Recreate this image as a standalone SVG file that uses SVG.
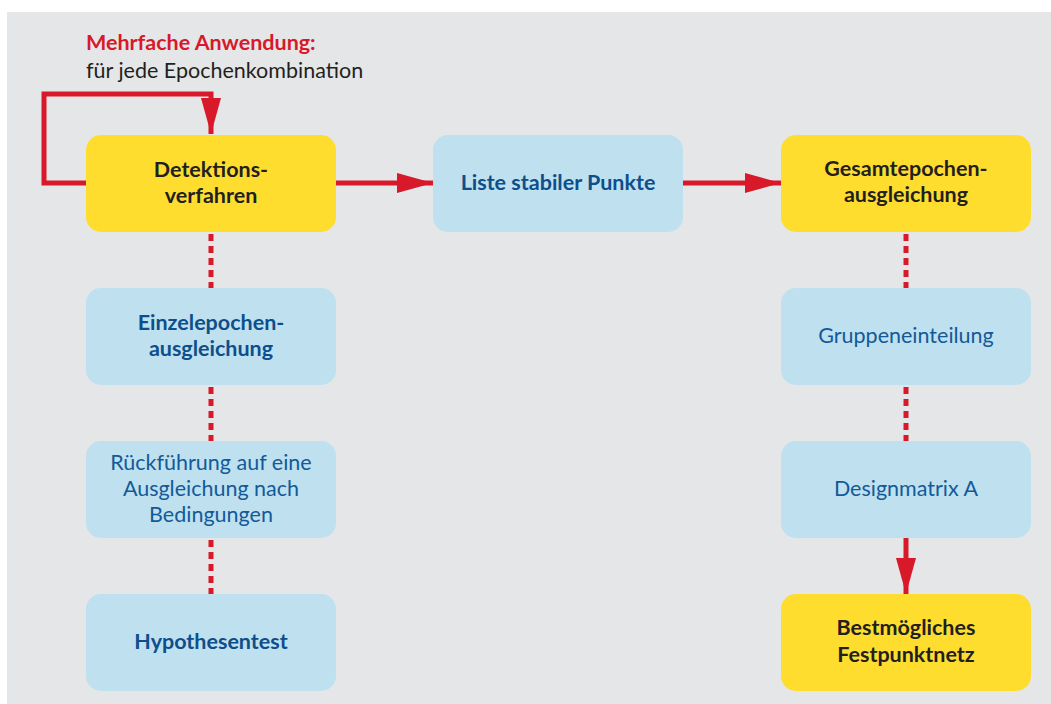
<svg xmlns="http://www.w3.org/2000/svg" width="1051" height="704" viewBox="0 0 1051 704">
<defs>
<style>
.y{fill:#fedd2f}
.b{fill:#bfe0ef}
.t{font-family:Lato,"Open Sans",sans-serif;font-size:21.5px;text-anchor:middle}
.tb{font-weight:bold;fill:#0d4e8b}
.tr{fill:#125a98}
.tk{font-weight:bold;fill:#231f20}
.arr{stroke:#d7192a;stroke-width:5;fill:none}
.dot{stroke:#d7192a;stroke-width:5;fill:none;stroke-dasharray:7 5}
</style>
<marker id="ah" viewBox="0 0 36 20" refX="36" refY="10" markerWidth="36" markerHeight="20" markerUnits="userSpaceOnUse" orient="auto">
<path d="M0,0 L36,10 L0,20 Z" fill="#d7192a"/>
</marker>
</defs>
<rect x="0" y="0" width="1051" height="704" fill="#ffffff"/>
<rect x="7" y="12" width="1044" height="692" fill="#e5e6e8"/>
<g id="label">
<text x="86" y="50" style="font-family:Lato,'Open Sans',sans-serif;font-size:21.5px;font-weight:bold;fill:#d7192a">Mehrfache Anwendung:</text>
<text x="86" y="78" style="font-family:Lato,'Open Sans',sans-serif;font-size:21.5px;fill:#231f20">für jede Epochenkombination</text>
</g>
<g id="connectors">
<path class="arr" d="M86,183 L44,183 L44,94 L211,94 L211,134" marker-end="url(#ah)"/>
<path class="arr" d="M336,183 L433,183" marker-end="url(#ah)"/>
<path class="arr" d="M683,183 L781,183" marker-end="url(#ah)"/>
<path class="dot" d="M211,234 L211,288"/>
<path class="dot" d="M211,387 L211,441"/>
<path class="dot" d="M211,540 L211,594"/>
<path class="dot" d="M906,234 L906,288"/>
<path class="dot" d="M906,387 L906,441"/>
<path class="arr" d="M906,538 L906,594" marker-end="url(#ah)"/>
</g>
<g id="detektion">
<rect class="y" x="86" y="135" width="250" height="97" rx="15"/>
<text class="t tk" x="211" y="177">Detektions-</text>
<text class="t tk" x="211" y="203">verfahren</text>
</g>
<g id="liste">
<rect class="b" x="433" y="135" width="250" height="97" rx="15"/>
<text class="t tb" x="558" y="190">Liste stabiler Punkte</text>
</g>
<g id="gesamt">
<rect class="y" x="781" y="135" width="250" height="97" rx="15"/>
<text class="t tk" x="906" y="176">Gesamtepochen-</text>
<text class="t tk" x="906" y="202">ausgleichung</text>
</g>
<g id="einzel">
<rect class="b" x="86" y="288" width="250" height="97" rx="15"/>
<text class="t tb" x="211" y="330">Einzelepochen-</text>
<text class="t tb" x="211" y="356">ausgleichung</text>
</g>
<g id="rueckfuehrung">
<rect class="b" x="86" y="441" width="250" height="97" rx="15"/>
<text class="t tr" x="211" y="470">Rückführung auf eine</text>
<text class="t tr" x="211" y="496">Ausgleichung nach</text>
<text class="t tr" x="211" y="522">Bedingungen</text>
</g>
<g id="hypothese">
<rect class="b" x="86" y="594" width="250" height="97" rx="15"/>
<text class="t tb" x="211" y="649">Hypothesentest</text>
</g>
<g id="gruppen">
<rect class="b" x="781" y="288" width="250" height="97" rx="15"/>
<text class="t tr" x="906" y="343">Gruppeneinteilung</text>
</g>
<g id="design">
<rect class="b" x="781" y="441" width="250" height="97" rx="15"/>
<text class="t tr" x="906" y="496">Designmatrix A</text>
</g>
<g id="bestmoeglich">
<rect class="y" x="781" y="594" width="250" height="97" rx="15"/>
<text class="t tk" x="906" y="635">Bestmögliches</text>
<text class="t tk" x="906" y="662">Festpunktnetz</text>
</g>
</svg>
